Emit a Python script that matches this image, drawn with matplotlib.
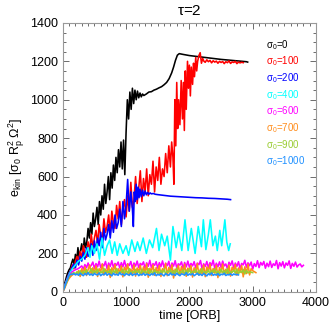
import numpy as np
import matplotlib
matplotlib.use("Agg")
import matplotlib.pyplot as plt
from matplotlib.ticker import MultipleLocator

plt.rcParams['font.family'] = ['Liberation Sans', 'DejaVu Sans']
plt.rcParams['mathtext.default'] = 'regular'

# ========================================================
# Data
# ========================================================
labels = ["0", "100", "200", "400", "600", "700", "900", "1000"]
colors = ["black", "red", "blue", "cyan", "magenta", "#ff8c1a", "#9acd32", "#1e90ff"]

# sigma0 = 0 : noisy rise sampled every 20 ORB up to 1280, then slow part
e_s0_rise = [0, 30, 55, 80, 100, 115, 125, 150, 170, 140,
             195, 160, 230, 175, 215, 250, 190, 280, 230, 260,
             330, 280, 360, 300, 410, 340, 380, 440, 350, 470,
             400, 500, 430, 560, 460, 520, 600, 480, 620, 540,
             660, 580, 700, 620, 740, 650, 780, 640, 790, 610,
             830, 1000, 900, 1040, 950, 1060, 980, 1050, 1000, 1045,
             1010, 1035, 1015, 1030, 1022]
t_s0_rise = np.arange(len(e_s0_rise)) * 20
t_s0_tail = [1320, 1360, 1400, 1440, 1480, 1520, 1560, 1600, 1640, 1680, 1720, 1750, 1780, 1810,
             1840, 1870, 1900, 1950, 2000, 2100, 2200, 2300, 2400, 2500, 2600, 2700, 2800, 2900, 2920]
e_s0_tail = [1030, 1040, 1042, 1050, 1055, 1062, 1068, 1078, 1090, 1110, 1140, 1170, 1205, 1232,
             1240, 1238, 1236, 1233, 1230, 1226, 1222, 1218, 1214, 1210, 1207, 1204, 1201, 1198, 1196]

# sigma0 = 100 : every 25 ORB up to 1675, then the jump, then a flat tail
e_s100_rise = [0, 25, 50, 75, 95, 110, 140, 120, 160, 185,
               150, 210, 175, 240, 195, 180, 260, 210, 300, 230,
               280, 320, 250, 350, 290, 270, 380, 310, 340, 400,
               300, 420, 360, 330, 450, 380, 470, 350, 430, 480,
               390, 500, 420, 570, 440, 480, 600, 460, 540, 630,
               470, 590, 520, 640, 500, 610, 560, 680, 520, 650,
               580, 700, 560, 640, 600, 720, 620, 760]
t_s100_rise = np.arange(len(e_s100_rise)) * 25
t_s100_jump = [1700, 1720, 1740, 1755, 1770, 1785, 1800, 1815, 1830, 1850, 1870, 1890, 1905, 1920,
               1935, 1950, 1970, 1985, 2000, 2015, 2030, 2050, 2065, 2080, 2100, 2115, 2130, 2150,
               2170, 2190, 2210, 2230]
e_s100_jump = [650, 780, 700, 560, 1000, 760, 1090, 850, 1000, 870, 1100, 900, 1090, 840,
               1150, 950, 1200, 1060, 1180, 1020, 1170, 1080, 1190, 1120, 1220, 1150, 1200, 1230,
               1245, 1190, 1215, 1200]
e_s100_tail = [1195, 1208, 1198, 1205, 1192, 1203, 1196, 1201, 1190, 1200, 1194, 1199, 1188,
               1198, 1193, 1202, 1189, 1197, 1194, 1200, 1188, 1196, 1192, 1195, 1193]
t_s100_tail = 2250 + np.arange(len(e_s100_tail)) * 25

# sigma0 = 200
e_s200_rise = [0, 25, 50, 75, 95, 110, 130, 145, 125, 165,
               140, 185, 160, 205, 170, 230, 185, 200, 250, 190,
               265, 215, 280, 240, 310, 230, 330, 270, 300, 350,
               280, 370, 310, 400, 330, 360, 430, 340, 470, 380,
               450, 585, 420, 520]
t_s200_rise = np.arange(len(e_s200_rise)) * 25
t_s200_tail = [1100, 1115, 1130, 1145, 1160, 1175, 1190, 1205, 1220, 1240, 1260, 1280, 1300, 1320,
               1340, 1360, 1380, 1400, 1430, 1460, 1500, 1600, 1700, 1800, 1900, 2000, 2100, 2200,
               2300, 2400, 2500, 2600, 2650]
e_s200_tail = [430, 340, 520, 470, 560, 480, 545, 490, 535, 495, 530, 500, 525, 505,
               518, 508, 515, 510, 512, 508, 506, 502, 498, 496, 494, 492, 490, 489,
               487, 486, 484, 482, 480]

# sigma0 = 400
t_s400 = [0, 50, 100, 150, 200, 250, 300, 350, 400, 430, 460, 500, 540, 580, 620, 660, 700, 740, 780, 820,
          860, 900, 950, 1000, 1040, 1090, 1140, 1180, 1220, 1270, 1320, 1370, 1420, 1480, 1520, 1560, 1610,
          1650, 1700, 1740, 1790, 1830, 1880, 1930, 1980, 2030, 2090, 2140, 2190, 2220, 2260, 2300, 2330,
          2370, 2410, 2440, 2480, 2510, 2560, 2590, 2620, 2645]
e_s400 = [0, 50, 90, 120, 140, 160, 170, 190, 230, 180, 240, 200, 250, 170, 280, 190, 240, 270, 200, 260,
          190, 250, 200, 240, 190, 270, 210, 260, 215, 280, 200, 270, 230, 330, 215, 300, 240, 290, 165, 340,
          230, 310, 215, 375, 215, 330, 200, 340, 235, 375, 220, 300, 375, 240, 290, 215, 320, 240, 375, 260,
          215, 250]

# sigma0 = 600 (every 25 ORB up to 3800)
e_s600 = [0, 20, 45, 65, 85, 95, 105, 110, 115, 118,
          122, 128, 135, 118, 142, 125, 150, 128, 138, 155,
          122, 147, 130, 160, 125, 145, 135, 158, 120, 150,
          132, 162, 127, 148, 138, 155, 124, 152, 130, 163,
          128, 146, 137, 158, 122, 150, 134, 160, 126, 148,
          140, 156, 120, 151, 133, 164, 125, 147, 138, 157,
          123, 152, 131, 161, 127, 149, 136, 159, 118, 150,
          134, 162, 125, 146, 139, 156, 121, 153, 130, 160,
          128, 148, 135, 157, 124, 150, 141, 163, 119, 146,
          132, 158, 126, 152, 137, 165, 122, 149, 130, 156,
          127, 160, 135, 145, 120, 154, 138, 161, 125, 150,
          133, 157, 121, 148, 140, 164, 128, 151, 136, 155,
          118, 147, 132, 162, 126, 153, 139, 158, 123, 149,
          131, 160, 127, 146, 137, 163, 120, 152, 134, 157,
          125, 150, 138, 161, 122, 148, 133, 155, 129, 140,
          145, 130, 138]
t_s600 = np.arange(len(e_s600)) * 25

# sigma0 = 700
e_s700 = [0, 15, 35, 55, 70, 80, 88, 92, 95, 90,
          110, 80, 120, 95, 130, 85, 115, 140, 90, 125,
          100, 135, 80, 120, 105, 145, 88, 118, 98, 138,
          75, 125, 108, 142, 90, 120, 100, 135, 78, 128,
          110, 145, 85, 118, 96, 140, 82, 124, 104, 138,
          88, 130, 98, 146, 76, 122, 107, 140, 86, 126,
          95, 137, 80, 120, 110, 148, 84, 127, 99, 141,
          72, 118, 105, 139, 89, 131, 97, 144, 81, 123,
          108, 136, 77, 125, 100, 147, 87, 119, 94, 140,
          79, 129, 106, 143, 85, 121, 98, 138, 74, 126,
          103, 145, 90, 117, 96, 139, 82, 128, 109, 142,
          86, 124, 101, 137, 78, 130, 95, 144, 88, 120,
          110, 105, 100]
t_s700 = np.arange(len(e_s700)) * 25

# sigma0 = 900
e_s900 = [0, 20, 40, 60, 80, 90, 95, 100, 92, 105,
          95, 110, 90, 108, 97, 115, 93, 104, 120, 95,
          110, 100, 118, 92, 106, 98, 122, 94, 108, 101,
          116, 90, 112, 99, 120, 95, 105, 102, 118, 93,
          110, 97, 121, 92, 107, 100, 115, 96, 112, 90,
          118, 99, 108, 94, 120, 97, 110, 92, 115, 100,
          106, 95, 112, 98, 119, 91, 109, 103, 117, 94,
          111, 96, 123, 93, 105, 100, 116, 89, 113, 98,
          120, 95, 107, 102, 118, 92, 110, 97, 122, 94,
          106, 99, 115, 91, 112, 100, 119, 96, 108, 93,
          117, 98, 111, 95, 121, 92, 106, 101, 114, 97,
          118, 94, 109, 100, 116, 93, 112, 98, 105, 102,
          100]
t_s900 = np.arange(len(e_s900)) * 25

# sigma0 = 1000
e_s1000 = [0, 20, 45, 65, 85, 92, 90, 95, 88, 93,
           86, 97, 90, 84, 95, 89, 100, 87, 93, 85,
           96, 90, 88, 98, 84, 92, 89, 99, 86, 94,
           90, 83, 97, 88, 92, 86, 100, 89, 93, 84,
           95, 90, 87, 98, 85, 93, 89, 96, 84, 91,
           88, 97, 86, 92, 90, 85, 94, 88, 99, 84,
           91, 87, 96, 89, 83, 95, 90, 86, 98, 88,
           92, 85, 97, 89, 84, 94, 91, 87, 100, 86,
           93, 88, 95, 84, 90, 97, 87, 92, 85, 96,
           89, 83, 94, 88, 99, 86, 91, 87, 95, 84,
           92, 89, 97, 85, 90, 88, 94, 86, 93, 89,
           91, 88]
t_s1000 = np.arange(len(e_s1000)) * 25

times = [np.concatenate([t_s0_rise, t_s0_tail]),
         np.concatenate([t_s100_rise, t_s100_jump, t_s100_tail]),
         np.concatenate([t_s200_rise, t_s200_tail]),
         t_s400, t_s600, t_s700, t_s900, t_s1000]
ekins = [e_s0_rise + e_s0_tail,
         e_s100_rise + e_s100_jump + e_s100_tail,
         e_s200_rise + e_s200_tail,
         e_s400, e_s600, e_s700, e_s900, e_s1000]

# ========================================================
# Plot
# ========================================================
fig = plt.figure(figsize=(3.32, 3.32), dpi=100)
ax = fig.add_axes([0.189, 0.121, 0.763, 0.81])

for t, e, c in zip(times, ekins, colors):
    ax.plot(t, e, color=c, lw=1.15)

ax.set_xlim(0, 4000)
ax.set_ylim(0, 1400)
ax.xaxis.set_major_locator(MultipleLocator(1000))
ax.xaxis.set_minor_locator(MultipleLocator(100))
ax.yaxis.set_major_locator(MultipleLocator(200))
ax.yaxis.set_minor_locator(MultipleLocator(50))
ax.tick_params(which="both", direction="in", top=True, right=True, labelsize=9, width=0.6, color="#555555")
ax.tick_params(which="major", length=4.5)
ax.tick_params(which="minor", length=2.2)
for sp in ax.spines.values():
    sp.set_linewidth(0.8)
    sp.set_color("#999999")

ax.set_xlabel("time [ORB]", fontsize=9, labelpad=1)
ax.set_ylabel(r"e$_{kin}$ [$\sigma_0$ R$_p^2$ $\Omega^2$]", fontsize=9, labelpad=2)
ax.set_title(r"$\tau$=2", fontsize=11, pad=6)

for i, (lab, c) in enumerate(zip(labels, colors)):
    ax.text(0.803, 0.918 - i * 0.0618, r"$\sigma_0$=" + lab, color=c, fontsize=7,
            transform=ax.transAxes, ha="left", va="center")

plt.savefig("out.png", dpi=100)
